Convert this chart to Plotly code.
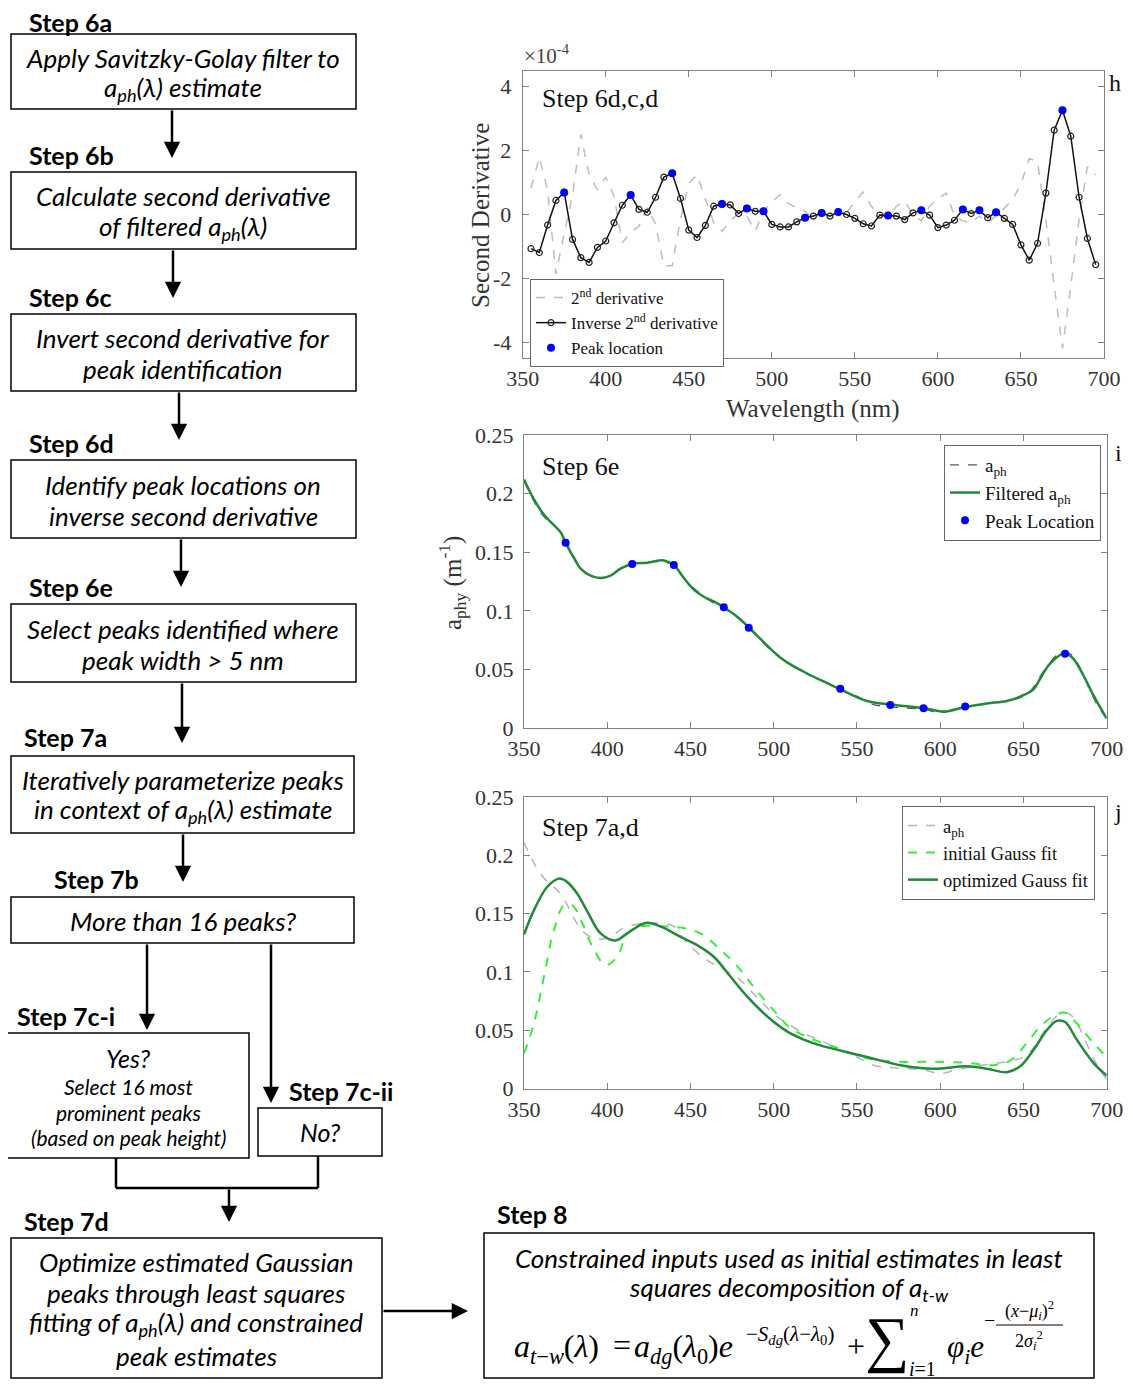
import plotly.graph_objects as go

# the page body has an 8px margin, so the figure is drawn 16px smaller and shifted
OFF = 8
W, H = 1133 - 2 * OFF, 1387 - 2 * OFF
SERIF = "Liberation Serif"
SANS = "Lato"


def px(x):
    return (x - OFF) / W


def py(y):
    return 1 - (y - OFF) / H


# ---- panel h: second derivative (units of 1e-4) ----
wl_h = list(range(355, 700, 5))
inv_d2 = [-1.07, -1.19, -0.33, 0.44, 0.69, -0.78, -1.35, -1.50, -1.03, -0.83,
          -0.26, 0.29, 0.61, 0.16, 0.07, 0.54, 1.17, 1.29, 0.50, -0.49,
          -0.72, -0.34, 0.26, 0.33, 0.30, 0.03, 0.19, 0.10, 0.10, -0.31,
          -0.39, -0.39, -0.23, -0.10, -0.05, 0.05, -0.05, 0.08, 0.00, -0.12,
          -0.29, -0.36, -0.02, -0.03, -0.05, -0.16, 0.05, 0.13, -0.02, -0.41,
          -0.33, -0.18, 0.16, 0.03, 0.13, -0.10, 0.07, -0.12, -0.31, -0.95,
          -1.43, -0.90, 0.67, 2.64, 3.26, 2.45, 0.54, -0.75, -1.57]
d2 = [0.83, 1.79, 0.75, -1.86, -0.60, 0.60, 2.51, 1.24, 0.78, 1.17,
      0.57, -0.88, -0.57, -0.36, 0.21, -0.30, -1.60, -1.60, -0.16, 0.98,
      1.24, 0.47, -0.26, -0.52, -0.20, 0.05, -0.05, -0.52, 0.10, 0.40,
      0.62, 0.35, 0.20, 0.10, -0.15, 0.10, -0.05, 0.10, 0.05, 0.40,
      0.70, 0.25, 0.00, -0.10, 0.26, 0.41, 0.00, -0.20, 0.26, 0.50,
      0.67, -0.05, -0.20, -0.26, -0.05, -0.26, -0.05, 0.20, 0.47, 0.95,
      1.75, 1.65, -0.16, -2.23, -4.19, -2.23, -0.16, 1.50, 1.24]
peak_wl_h = [375, 415, 440, 470, 485, 495, 520, 530, 540, 570, 590, 615, 625, 635, 675]

# ---- panel i: a_ph and filtered a_ph ----
aph_wl = [350, 355, 360, 365, 370, 375, 380, 385, 390, 395, 400, 405, 410, 415, 420,
          430, 440, 445, 450, 460, 470, 480, 490, 500, 510, 520, 530, 540, 550, 560,
          570, 580, 590, 600, 610, 620, 630, 640, 650, 655, 660, 665, 670, 675, 680,
          685, 690, 695, 700]
aph = [0.211, 0.196, 0.184, 0.176, 0.170, 0.160, 0.146, 0.135, 0.130, 0.128, 0.129, 0.133, 0.138, 0.140, 0.141,
       0.142, 0.139, 0.130, 0.122, 0.110, 0.102, 0.093, 0.078, 0.064, 0.054, 0.046, 0.040, 0.033, 0.027, 0.020,
       0.018, 0.017, 0.016, 0.013, 0.016, 0.019, 0.021, 0.023, 0.027, 0.033, 0.044, 0.054, 0.062, 0.065, 0.061,
       0.048, 0.032, 0.018, 0.008]
filt_wl = [350, 356, 362, 368, 372, 375, 380, 384, 390, 396, 402, 408, 415, 424, 434,
           440, 446, 452, 458, 464, 470, 478, 485, 492, 500, 508, 518, 528, 540, 556,
           570, 590, 602, 615, 628, 640, 650, 656, 660, 666, 675, 680, 686, 692, 700]
filt = [0.212, 0.195, 0.182, 0.173, 0.167, 0.158, 0.145, 0.136, 0.130, 0.128, 0.130, 0.136, 0.140, 0.141, 0.143,
        0.139, 0.128, 0.118, 0.112, 0.108, 0.103, 0.095, 0.086, 0.076, 0.065, 0.056, 0.048, 0.041, 0.033, 0.023,
        0.020, 0.017, 0.014, 0.018, 0.021, 0.023, 0.028, 0.033, 0.042, 0.055, 0.064, 0.059, 0.045, 0.028, 0.008]
peak_wl_i = [375, 415, 440, 470, 485, 540, 570, 590, 615, 675]
peak_val_i = [0.158, 0.140, 0.139, 0.103, 0.0856, 0.0334, 0.0197, 0.0169, 0.0183, 0.0634]

# ---- panel j: Gaussian fits ----
opt_wl = [350, 356, 364, 371, 376, 382, 388, 396, 405, 412, 423, 432, 444, 454, 464,
          474, 484, 496, 508, 518, 528, 536, 556, 576, 596, 616, 628, 640, 648, 656,
          664, 670, 675, 682, 692, 700]
opt_fit = [0.132, 0.153, 0.173, 0.180, 0.177, 0.167, 0.152, 0.133, 0.127, 0.133, 0.142, 0.139, 0.130, 0.123, 0.113,
           0.096, 0.079, 0.062, 0.049, 0.042, 0.037, 0.034, 0.027, 0.020, 0.017, 0.019, 0.017, 0.014, 0.019, 0.033,
           0.050, 0.058, 0.057, 0.042, 0.022, 0.011]
init_wl = [350, 356, 362, 368, 374, 379, 385, 391, 399, 406, 412, 420, 432, 444, 456,
           468, 478, 488, 500, 510, 522, 536, 556, 576, 596, 616, 632, 642, 652, 660,
           668, 675, 682, 692, 700]
init_fit = [0.030, 0.056, 0.096, 0.136, 0.157, 0.157, 0.142, 0.122, 0.106, 0.113, 0.133, 0.139, 0.139, 0.138, 0.133,
            0.119, 0.105, 0.087, 0.067, 0.052, 0.043, 0.036, 0.026, 0.023, 0.023, 0.022, 0.020, 0.024, 0.039, 0.053,
            0.062, 0.065, 0.056, 0.039, 0.027]

GREEN = "#23893a"
LIME = "#33f033"
BLUE = "#0000ff"

fig = go.Figure()

# panel h
fig.add_trace(go.Scatter(x=wl_h, y=d2, mode="lines", name="2<sup>nd</sup> derivative",
                         line=dict(color="#bdbdbd", width=1.5, dash="dash"),
                         xaxis="x", yaxis="y", legend="legend"))
fig.add_trace(go.Scatter(x=wl_h, y=inv_d2, mode="lines+markers", name="Inverse 2<sup>nd</sup> derivative",
                         line=dict(color="#111111", width=1.5),
                         marker=dict(symbol="circle-open", size=6, color="#222222", line=dict(width=1.2)),
                         xaxis="x", yaxis="y", legend="legend"))
peak_val_h = [inv_d2[wl_h.index(w)] for w in peak_wl_h]
fig.add_trace(go.Scatter(x=peak_wl_h, y=peak_val_h, mode="markers", name="Peak location",
                         marker=dict(color=BLUE, size=8),
                         xaxis="x", yaxis="y", legend="legend"))

# panel i
fig.add_trace(go.Scatter(x=aph_wl, y=aph, mode="lines", name="a<sub>ph</sub>", line_shape="spline",
                         line=dict(color="#555555", width=1.3, dash="dash"),
                         xaxis="x2", yaxis="y2", legend="legend2"))
fig.add_trace(go.Scatter(x=filt_wl, y=filt, mode="lines", name="Filtered a<sub>ph</sub>", line_shape="spline",
                         line=dict(color=GREEN, width=2.5),
                         xaxis="x2", yaxis="y2", legend="legend2"))
fig.add_trace(go.Scatter(x=peak_wl_i, y=peak_val_i, mode="markers", name="Peak Location",
                         marker=dict(color=BLUE, size=8),
                         xaxis="x2", yaxis="y2", legend="legend2"))

# panel j
fig.add_trace(go.Scatter(x=aph_wl, y=aph, mode="lines", name="a<sub>ph</sub>", line_shape="spline",
                         line=dict(color="#b5b5b5", width=1.5, dash="dash"),
                         xaxis="x3", yaxis="y3", legend="legend3"))
fig.add_trace(go.Scatter(x=init_wl, y=init_fit, mode="lines", name="initial Gauss fit", line_shape="spline",
                         line=dict(color=LIME, width=2, dash="dash"),
                         xaxis="x3", yaxis="y3", legend="legend3"))
fig.add_trace(go.Scatter(x=opt_wl, y=opt_fit, mode="lines", name="optimized Gauss fit", line_shape="spline",
                         line=dict(color=GREEN, width=2.5),
                         xaxis="x3", yaxis="y3", legend="legend3"))

ax_style = dict(showline=True, linecolor="#808080", linewidth=1, mirror="ticks", ticks="inside",
                ticklen=6, tickcolor="#808080", showgrid=False, zeroline=False, automargin=False,
                tickfont=dict(family=SERIF, size=22, color="#333333"))
xticks = [350, 400, 450, 500, 550, 600, 650, 700]
ytick_a = [0, 0.05, 0.1, 0.15, 0.2, 0.25]
ytext_a = ["0", "0.05", "0.1", "0.15", "0.2", "0.25"]

fig.update_layout(
    xaxis=dict(ax_style, domain=[px(522.7), px(1104)], range=[350, 700], tickvals=xticks,
               anchor="y", ticklabelstandoff=0),
    yaxis=dict(ax_style, domain=[py(358.3), py(70.7)], range=[-4.5, 4.5], tickvals=[-4, -2, 0, 2, 4],
               ticktext=["-4", "-2", "0", "2", "4"], anchor="x", ticklabelstandoff=6),
    xaxis2=dict(ax_style, domain=[px(524), px(1106.7)], range=[350, 700], tickvals=xticks,
                anchor="y2", ticklabelstandoff=1),
    yaxis2=dict(ax_style, domain=[py(728), py(435)], range=[0, 0.25],
                tickvals=ytick_a, ticktext=ytext_a, anchor="x2", ticklabelstandoff=5),
    xaxis3=dict(ax_style, domain=[px(524), px(1106.7)], range=[350, 700], tickvals=xticks,
                anchor="y3", ticklabelstandoff=1),
    yaxis3=dict(ax_style, domain=[py(1088.5), py(797)], range=[0, 0.25],
                tickvals=ytick_a, ticktext=ytext_a, anchor="x3", ticklabelstandoff=5),
)

leg_style = dict(xref="paper", yref="paper", xanchor="left", yanchor="top", bgcolor="white",
                 bordercolor="#666666", borderwidth=1, tracegroupgap=0, itemwidth=30,
                 font=dict(family=SERIF, size=19, color="#111111"))
fig.update_layout(
    legend=dict(leg_style, x=px(530), y=py(279), font=dict(family=SERIF, size=17, color="#111111")),
    legend2=dict(leg_style, x=px(944), y=py(445)),
    legend3=dict(leg_style, x=px(902), y=py(806), font=dict(family=SERIF, size=18.5, color="#111111")),
)

ann = []


def text(x, y, s, size=20, family=SERIF, xanchor="center", color="#111111", angle=0):
    ann.append(dict(x=px(x), y=py(y), xref="paper", yref="paper", text=s, showarrow=False,
                    xanchor=xanchor, yanchor="middle", textangle=angle,
                    font=dict(family=family, size=size, color=color)))


# axes decorations
text(522, 55, "×10<sup>-4</sup>", size=21, xanchor="left", color="#444444")
text(813, 409, "Wavelength (nm)", size=25, color="#333333")
text(481, 215, "Second Derivative", size=25, color="#333333", angle=-90)
text(452, 583, "a<sub>phy</sub> (m<sup>-1</sup>)", size=25, color="#333333", angle=-90)
text(540, 99, "Step 6d,c,d", size=26, xanchor="left")
text(540, 466, "Step 6e", size=26, xanchor="left")
text(540, 827, "Step 7a,d", size=26, xanchor="left")
text(1115, 83, "h", size=24)
text(1118, 453, "i", size=24)
text(1118, 812, "j", size=24)

# flowchart
shapes = []


def box(x0, y0, x1, y1):
    shapes.append(dict(type="rect", xref="paper", yref="paper", x0=px(x0), x1=px(x1), y0=py(y1), y1=py(y0),
                       line=dict(color="#000000", width=1.5)))


def seg(x0, y0, x1, y1, w=2.5):
    shapes.append(dict(type="line", xref="paper", yref="paper", x0=px(x0), x1=px(x1), y0=py(y0), y1=py(y1),
                       line=dict(color="#000000", width=w)))


def arrow(x, y0, y1, horizontal=False):
    if horizontal:
        ann.append(dict(x=px(y1), y=py(x), xref="paper", yref="paper", ax=-(y1 - y0), ay=0, text="",
                        showarrow=True, arrowhead=2, arrowsize=1.3, arrowwidth=2.5, arrowcolor="#000000"))
    else:
        ann.append(dict(x=px(x), y=py(y1), xref="paper", yref="paper", ax=0, ay=-(y1 - y0), text="",
                        showarrow=True, arrowhead=2, arrowsize=1.3, arrowwidth=2.5, arrowcolor="#000000"))


def label(x, y, s):
    text(x, y, "<b>" + s + "</b>", size=25, family=SANS, xanchor="left", color="#000000")


def it(x, y, s, size=26):
    text(x, y, "<i>" + s + "</i>", size=size, family=SANS, color="#000000")


label(27, 22, "Step 6a")
box(11, 34, 356, 109)
it(183, 58, "Apply Savitzky-Golay filter to")
it(183, 88, "a<sub>ph</sub>(λ) estimate")
arrow(172, 109, 158)

label(27, 155, "Step 6b")
box(11, 172, 356, 249)
it(183, 196, "Calculate second derivative")
it(183, 227, "of filtered a<sub>ph</sub>(λ)")
arrow(173, 249, 298)

label(27, 297, "Step 6c")
box(11, 314, 356, 391)
it(183, 338, "Invert second derivative for")
it(183, 369, "peak identification")
arrow(179, 391, 440)

label(27, 443, "Step 6d")
box(11, 460, 356, 538)
it(183, 485, "Identify peak locations on")
it(183, 516, "inverse second derivative")
arrow(181, 538, 587)

label(27, 587, "Step 6e")
box(11, 604, 356, 682)
it(183, 629, "Select peaks identified where")
it(183, 660, "peak width > 5 nm")
arrow(182, 682, 743)

label(22, 737, "Step 7a")
box(11, 756, 354, 833)
it(183, 780, "Iteratively parameterize peaks")
it(183, 810, "in context of a<sub>ph</sub>(λ) estimate")
arrow(183, 833, 882)

label(52, 879, "Step 7b")
box(11, 897, 354, 943)
it(183, 921, "More than 16 peaks?")
arrow(147, 943, 1030)
arrow(271, 943, 1103)

label(15, 1016, "Step 7c-i")
box(7, 1033, 249, 1158)
it(128, 1058, "Yes?", 25)
it(128, 1086, "Select 16 most", 21)
it(128, 1112, "prominent peaks", 21)
it(128, 1137, "(based on peak height)", 21)

label(287, 1091, "Step 7c-ii")
box(258, 1108, 382, 1156)
it(320, 1132, "No?", 25)

seg(116, 1158, 116, 1188)
seg(116, 1188, 318, 1188)
seg(318, 1188, 318, 1156)
arrow(229, 1188, 1222)

label(22, 1221, "Step 7d")
box(11, 1238, 382, 1378)
it(196, 1262, "Optimize estimated Gaussian")
it(196, 1293, "peaks through least squares")
it(196, 1323, "fitting of a<sub>ph</sub>(λ) and constrained")
it(196, 1356, "peak estimates")
arrow(1311, 382, 468, horizontal=True)

label(495, 1214, "Step 8")
box(484, 1233, 1094, 1378)
it(789, 1258, "Constrained inputs used as initial estimates in least")
it(789, 1288, "squares decomposition of a<sub>t-w</sub>")

# equation (Step 8)
EQ = SERIF
K = "#000000"
text(512, 1348, "<i>a</i><sub><i>t</i>−<i>w</i></sub>(<i>λ</i>)", size=32, family=EQ, xanchor="left", color=K)
text(622, 1345, "=", size=32, family=EQ, color=K)
text(632, 1348, "<i>a</i><sub><i>dg</i></sub>(<i>λ</i><sub>0</sub>)<i>e</i>", size=32, family=EQ,
     xanchor="left", color=K)
text(744, 1335, "−<i>S</i><sub><i>dg</i></sub>(<i>λ</i>−<i>λ</i><sub>0</sub>)", size=21, family=EQ,
     xanchor="left", color=K)
text(856, 1346, "+", size=32, family=EQ, color=K)
text(887, 1339, "∑", size=62, family=EQ, color=K)
text(914, 1310, "<i>n</i>", size=17, family=EQ, color=K)
text(922, 1369, "<i>i</i>=1", size=20, family=EQ, color=K)
text(945, 1349, "<i>φ</i><sub><i>i</i></sub><i>e</i>", size=31, family=EQ, xanchor="left", color=K)
text(989, 1320, "−", size=20, family=EQ, color=K)
text(1029, 1310, "(<i>x</i>−<i>μ</i><sub><i>i</i></sub>)<sup>2</sup>", size=18, family=EQ, color=K)
seg(996, 1325, 1063, 1325, w=1)
text(1029, 1340, "2<i>σ</i><sub><i>i</i></sub><sup>2</sup>", size=18, family=EQ, color=K)

fig.update_layout(
    width=W, height=H, margin=dict(l=0, r=0, t=0, b=0, autoexpand=False),
    paper_bgcolor="white", plot_bgcolor="white",
    annotations=ann, shapes=shapes,
)

fig.write_html("out.html")
